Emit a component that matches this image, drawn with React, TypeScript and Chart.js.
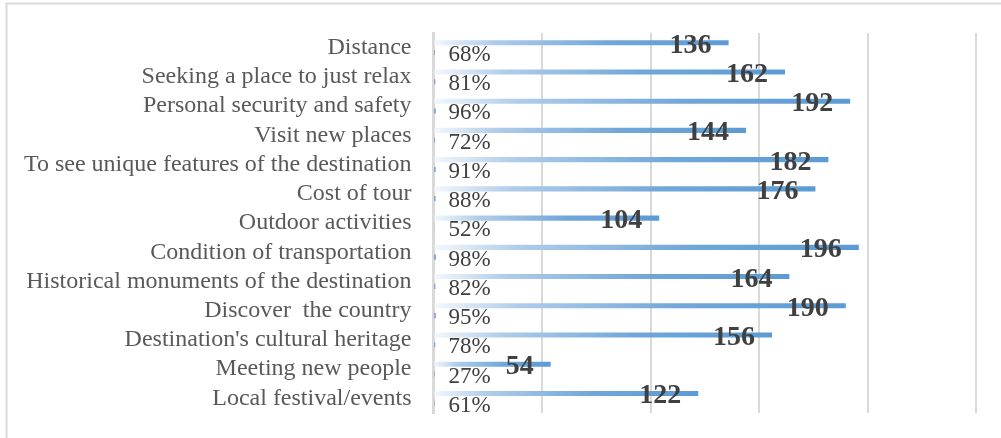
import React, { useEffect, useRef } from "react";
import { Chart, registerables } from "chart.js";

Chart.register(...registerables);

const categories: string[] = [
  "Distance",
  "Seeking a place to just relax",
  "Personal security and safety",
  "Visit new places",
  "To see unique features of the destination",
  "Cost of tour",
  "Outdoor activities",
  "Condition of transportation",
  "Historical monuments of the destination",
  "Discover  the country",
  "Destination's cultural heritage",
  "Meeting new people",
  "Local festival/events",
];

const counts: number[] = [136, 162, 192, 144, 182, 176, 104, 196, 164, 190, 156, 54, 122];
const percents: number[] = [68, 81, 96, 72, 91, 88, 52, 98, 82, 95, 78, 27, 61];

const xMin = 0;
const xMax = 250;
const xStep = 50;

const SERIF = "'Liberation Serif', 'Times New Roman', serif";

const frame = {
  id: "frame",
  beforeDraw(chart: any) {
    const ctx = chart.ctx;
    ctx.save();
    ctx.strokeStyle = "#d9d9d9";
    ctx.lineWidth = 2;
    ctx.beginPath();
    ctx.moveTo(6.5, chart.height + 5);
    ctx.lineTo(6.5, 3.5);
    ctx.lineTo(chart.width + 5, 3.5);
    ctx.stroke();
    ctx.restore();
  },
};

const valueLabels = {
  id: "valueLabels",
  afterDatasetsDraw(chart: any) {
    const ctx = chart.ctx;
    const m0 = chart.getDatasetMeta(0);
    const m1 = chart.getDatasetMeta(1);
    ctx.save();
    ctx.textBaseline = "alphabetic";
    m1.data.forEach((bar: any, i: number) => {
      ctx.font = `23px ${SERIF}`;
      ctx.fillStyle = "#404040";
      ctx.textAlign = "left";
      ctx.fillText(`${percents[i]}%`, bar.base + 14, bar.y + 8.5);
    });
    m0.data.forEach((bar: any, i: number) => {
      ctx.font = `bold 28px ${SERIF}`;
      ctx.fillStyle = "#404040";
      ctx.textAlign = "right";
      ctx.fillText(String(counts[i]), bar.x - 17, bar.y + 10);
    });
    ctx.restore();
  },
};

export default function App() {
  const ref = useRef<HTMLCanvasElement | null>(null);

  useEffect(() => {
    if (!ref.current) return;
    const chart = new Chart(ref.current, {
      type: "bar",
      data: {
        labels: categories,
        datasets: [
          {
            label: "Count",
            data: counts,
            backgroundColor: (c: any) => {
              const ch = c.chart;
              const area = ch.chartArea;
              if (!area || !ch.scales.x) return "#5b9bd5";
              const end = ch.scales.x.getPixelForValue(c.raw ?? 0);
              const g = ch.ctx.createLinearGradient(area.left, 0, Math.max(end, area.left + 1), 0);
              g.addColorStop(0, "#f4f8fc");
              g.addColorStop(0.2, "#b0cdea");
              g.addColorStop(0.6, "#70a7d9");
              g.addColorStop(1, "#5b9bd5");
              return g;
            },
            borderWidth: 0,
            categoryPercentage: 0.67,
            barPercentage: 0.52,
          },
          {
            label: "Percent",
            data: percents.map((p) => p / 100),
            backgroundColor: "#4472c4",
            borderWidth: 0,
            categoryPercentage: 0.67,
            barPercentage: 0.52,
          },
        ],
      },
      options: {
        indexAxis: "y",
        animation: false,
        responsive: true,
        maintainAspectRatio: false,
        layout: { padding: { left: 0, right: 25, top: 33, bottom: 25 } },
        plugins: {
          legend: { display: false },
          tooltip: { enabled: false },
          title: { display: false },
        },
        scales: {
          x: {
            min: xMin,
            max: xMax,
            ticks: { display: false, stepSize: xStep },
            border: { display: false },
            grid: { color: "#d9d9d9", lineWidth: 2, drawTicks: false },
            afterFit: (s: any) => {
              s.height = 0;
              s.paddingLeft = 0;
              s.paddingRight = 0;
            },
          },
          y: {
            grid: { display: false, drawTicks: false },
            border: { display: true, color: "#d9d9d9", width: 3 },
            ticks: {
              color: "#595959",
              padding: 22,
              font: { family: SERIF, size: 24 },
              autoSkip: false,
            },
            afterFit: (s: any) => {
              s.width = 433.5;
              s.paddingTop = 0;
              s.paddingBottom = 0;
            },
          },
        },
      },
      plugins: [frame, valueLabels],
    });
    return () => chart.destroy();
  }, []);

  return (
    <div style={{ position: "absolute", left: 0, top: 0, width: 1001, height: 438, background: "#fff" }}>
      <canvas ref={ref} />
    </div>
  );
}
